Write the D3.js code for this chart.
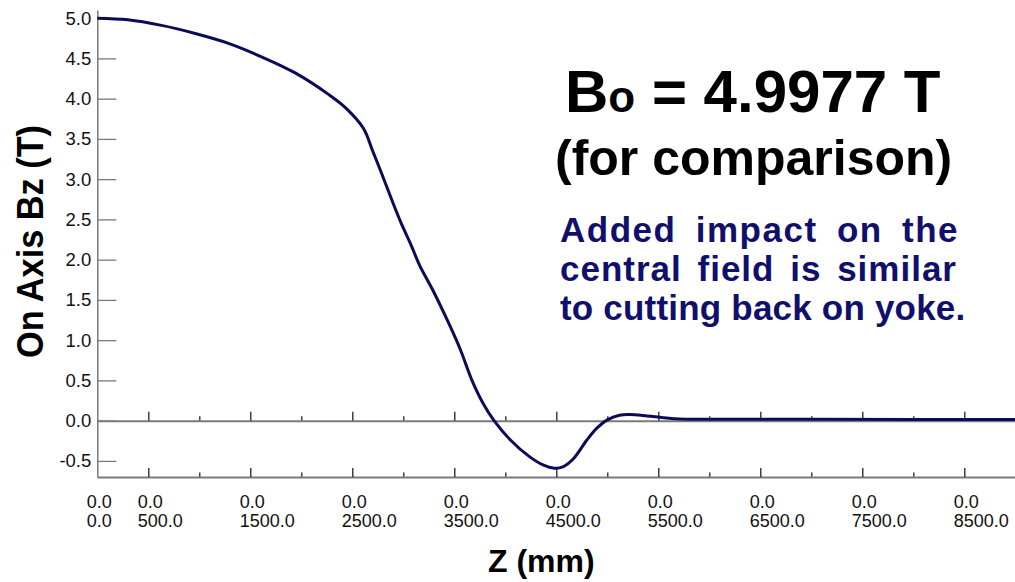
<!DOCTYPE html>
<html>
<head>
<meta charset="utf-8">
<script src="https://cdn.jsdelivr.net/npm/d3@7"></script>
<style>
  html, body { margin: 0; padding: 0; background: #fff; }
  svg { display: block; font-family: "Liberation Sans", Arial, Helvetica, sans-serif; }
</style>
</head>
<body>
<svg id="chart" width="1015" height="582"></svg>
<script>
// On-axis field profile Bz(z)
const zValues = [0, 300, 630, 960, 1280, 1610, 1940, 2270, 2440, 2610, 2700, 2800, 2900,
  2980, 3070, 3160, 3290, 3460, 3560, 3670, 3780, 3890, 4050, 4240, 4370, 4480, 4570, 4670,
  4800, 4900, 5000, 5120, 5220, 5390, 5550, 5710, 6000, 7000, 8000, 9000];
const bzValues = [5.00, 4.98, 4.91, 4.81, 4.69, 4.52, 4.32, 4.05, 3.88, 3.63, 3.35, 3.03, 2.70,
  2.45, 2.20, 1.93, 1.62, 1.17, 0.88, 0.51, 0.22, 0.00, -0.24, -0.45, -0.55, -0.59, -0.57, -0.47,
  -0.24, -0.09, 0.01, 0.067, 0.075, 0.058, 0.037, 0.021, 0.018, 0.016, 0.015, 0.015];

// Axis ticks and labels
const yTickValues = [-0.5, 0.0, 0.5, 1.0, 1.5, 2.0, 2.5, 3.0, 3.5, 4.0, 4.5, 5.0];
const xMajorTicks = [500, 1500, 2500, 3500, 4500, 5500, 6500, 7500, 8500];
const xMinorTicks = [1000, 2000, 3000, 4000, 5000, 6000, 7000, 8000];
const xLabelValues = [0, 500, 1500, 2500, 3500, 4500, 5500, 6500, 7500, 8500];

const yTitle = "On Axis Bz (T)";
const xTitle = "Z (mm)";
const noteLines = ["Added impact on the", "central field is similar", "to cutting back on yoke."];

const svg = d3.select("#chart");
const x = d3.scaleLinear().domain([0, 9000]).range([97.3, 1015.3]);
const y = d3.scaleLinear().domain([-0.7, 5.1]).range([477, 10.1]);

const axisGray = "#7a7a7a";

// Left axis: ticks pointing into the plot
const yAxis = svg.append("g")
  .attr("transform", `translate(${x(0)},0)`)
  .call(d3.axisLeft(y).tickValues(yTickValues).tickSizeInner(-19).tickSizeOuter(0)
    .tickPadding(6).tickFormat(v => v.toFixed(1)));
yAxis.select(".domain").attr("stroke", axisGray).attr("stroke-width", 1.5);
yAxis.selectAll(".tick line").attr("stroke", axisGray).attr("stroke-width", 1.3);
yAxis.selectAll(".tick text").attr("fill", "#111").style("font-size", "18.5px")
  .style("font-family", "'Liberation Sans', Arial, sans-serif");

// Zero line and bottom line, each with upward ticks
function horizontalAxis(atValue) {
  const yPos = y(atValue);
  const gMinor = svg.append("g").attr("transform", `translate(0,${yPos})`)
    .call(d3.axisTop(x).tickValues(xMinorTicks).tickSizeInner(4.5).tickSizeOuter(0).tickFormat(""));
  gMinor.select(".domain").remove();
  gMinor.selectAll(".tick line").attr("stroke", "#222").attr("stroke-width", 1.3);
  const gMajor = svg.append("g").attr("transform", `translate(0,${yPos})`)
    .call(d3.axisTop(x).tickValues(xMajorTicks).tickSizeInner(9).tickSizeOuter(0).tickFormat(""));
  gMajor.select(".domain").attr("stroke", axisGray).attr("stroke-width", 2);
  gMajor.selectAll(".tick line").attr("stroke", "#222").attr("stroke-width", 1.3);
}
horizontalAxis(0);
horizontalAxis(-0.7);

// Two-line tick labels under the plot
const xLabels = svg.append("g").attr("fill", "#111").style("font-size", "18px");
xLabelValues.forEach(v => {
  const t = xLabels.append("text").attr("x", x(v) - 10.6);
  t.append("tspan").attr("x", x(v) - 10.6).attr("y", 507.5).text("0.0");
  t.append("tspan").attr("x", x(v) - 10.6).attr("y", 526.8).text(v.toFixed(1));
});

// Field curve
const line = d3.line().x((d, i) => x(zValues[i])).y(d => y(d)).curve(d3.curveCatmullRom.alpha(0.5));
svg.append("path")
  .attr("d", line(bzValues))
  .attr("fill", "none")
  .attr("stroke", "#0b0b58")
  .attr("stroke-width", 3)
  .attr("stroke-linejoin", "round");

// Axis titles
svg.append("text")
  .attr("transform", "translate(43,241.5) rotate(-90)")
  .attr("text-anchor", "middle")
  .style("font-size", "37px").style("font-weight", "bold")
  .attr("textLength", 233).attr("lengthAdjust", "spacingAndGlyphs")
  .attr("fill", "#000")
  .text(yTitle);

svg.append("text")
  .attr("x", 488).attr("y", 572)
  .style("font-size", "32px").style("font-weight", "bold")
  .attr("fill", "#000")
  .text(xTitle);

// Annotation
const bo = svg.append("text")
  .attr("x", 565).attr("y", 111.5)
  .style("font-size", "60px").style("font-weight", "bold")
  .attr("fill", "#000");
bo.append("tspan").text("B");
bo.append("tspan").style("font-size", "44px").text("o");
bo.append("tspan").text(" = 4.9977 T");

svg.append("text")
  .attr("x", 555).attr("y", 175)
  .style("font-size", "50px").style("font-weight", "bold")
  .attr("fill", "#000")
  .text("(for comparison)");

// Note block: lines justified to a common right edge
const noteBaselines = [242, 281, 320];
const noteLetterSpacing = [1.5, 1.0, 0.2];
const noteRight = [959, 957, null];
noteLines.forEach((s, i) => {
  const t = svg.append("text")
    .attr("x", 560).attr("y", noteBaselines[i])
    .style("font-size", "35px").style("font-weight", "bold")
    .style("letter-spacing", noteLetterSpacing[i] + "px")
    .attr("fill", "#10106c")
    .text(s);
  if (noteRight[i] !== null) {
    const natural = t.node().getComputedTextLength();
    const gaps = s.split(" ").length - 1;
    const extra = (noteRight[i] - 560 - natural) / gaps;
    if (extra > 0) t.style("word-spacing", extra + "px");
  }
});
</script>
</body>
</html>
